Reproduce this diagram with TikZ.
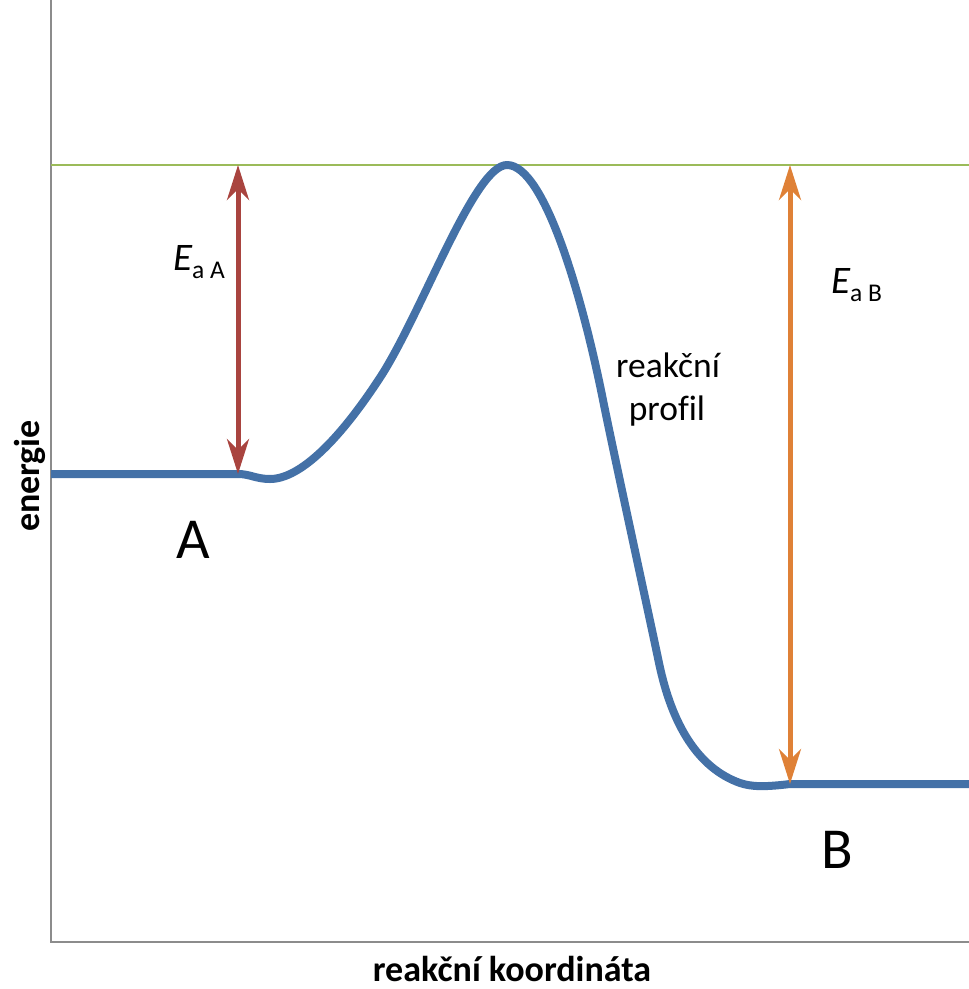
\documentclass[tikz,border=0pt]{standalone}
\usepackage{fontspec}
\setmainfont[Ligatures=NoCommon]{Carlito}
\usetikzlibrary{arrows.meta}
\definecolor{curveblue}{HTML}{4471A7}
\definecolor{arrred}{HTML}{A9443F}
\definecolor{arrorange}{HTML}{DF8137}
\definecolor{tsgreen}{HTML}{9BBB59}
\definecolor{axisgrey}{HTML}{8C8C8C}
\tikzset{
  axisline/.style={draw=axisgrey, line width=2.5pt},
  tsline/.style={draw=tsgreen, line width=2.5pt},
  profile/.style={draw=curveblue, line width=8pt, line join=round},
  eaarrow/.style={line width=5pt, {Stealth[length=35pt,width=22pt,inset=11pt]}-{Stealth[length=35pt,width=22pt,inset=11pt]}},
  lbl/.style={inner sep=0pt, font=\fontsize{35.5}{35.5}\selectfont},
  biglbl/.style={inner sep=0pt, font=\fontsize{58}{58}\selectfont},
  axlbl/.style={inner sep=0pt, font=\fontsize{36}{36}\selectfont\bfseries},
}
\newcommand{\Ea}[1]{{\fontsize{39}{39}\selectfont\itshape E}\raisebox{-8pt}{\fontsize{25.5}{25.5}\selectfont a #1}}
\begin{document}
\begin{tikzpicture}[x=1pt,y=-1pt]
\useasboundingbox (0,0) rectangle (969,989);
% axes
\coordinate (ytop) at (51,0);
\coordinate (orig) at (51,942);
\coordinate (xend) at (969,942);
\draw[axisline] (ytop) -- (orig) -- (xend);
% transition state level
\coordinate (tsL) at (51,165);
\coordinate (tsR) at (969,165);
\draw[tsline] (tsL) -- (tsR);
% reaction profile
\coordinate (Astart) at (51,474);
\coordinate (Aend) at (238,474);
\coordinate (peak) at (507,165);
\coordinate (Bstart) at (790,784);
\coordinate (Bend) at (969,784);
\draw[profile] (Astart) -- (Aend)
  .. controls (250,474) and (256,479) .. (270,479)
  .. controls (300,479) and (340,440) .. (383,373)
  .. controls (425,305) and (475,165) .. (peak)
  .. controls (545,165) and (583,300) .. (603,400)
  .. controls (613,450) and (649,615) .. (659,663)
  .. controls (672,725) and (698,768) .. (740,783)
  .. controls (752,787) and (765,787) .. (Bstart)
  -- (Bend);
% activation energy arrows
\coordinate (EaAtop) at (238,165);
\coordinate (EaBtop) at (790,165);
\draw[eaarrow, draw=arrred, fill=arrred] (Aend) -- (EaAtop);
\draw[eaarrow, draw=arrorange, fill=arrorange] (Bstart) -- (EaBtop);
% labels
\node[inner sep=0pt, anchor=base west] (lEaA) at (173,270) {\Ea{A}};
\node[inner sep=0pt, anchor=base west] (lEaB) at (831,293) {\Ea{B}};
\node[lbl, anchor=base] (lreak) at (668,377) {reakční};
\node[lbl, anchor=base] (lprof) at (667,420) {profil};
\node[biglbl, anchor=base] (lA) at (193,558) {A};
\node[biglbl, anchor=base] (lB) at (837,868) {B};
\node[axlbl, anchor=base] (lx) at (512,981) {reakční koordináta};
\node[axlbl, rotate=90] (ly) at (30,476) {energie};
\end{tikzpicture}
\end{document}
